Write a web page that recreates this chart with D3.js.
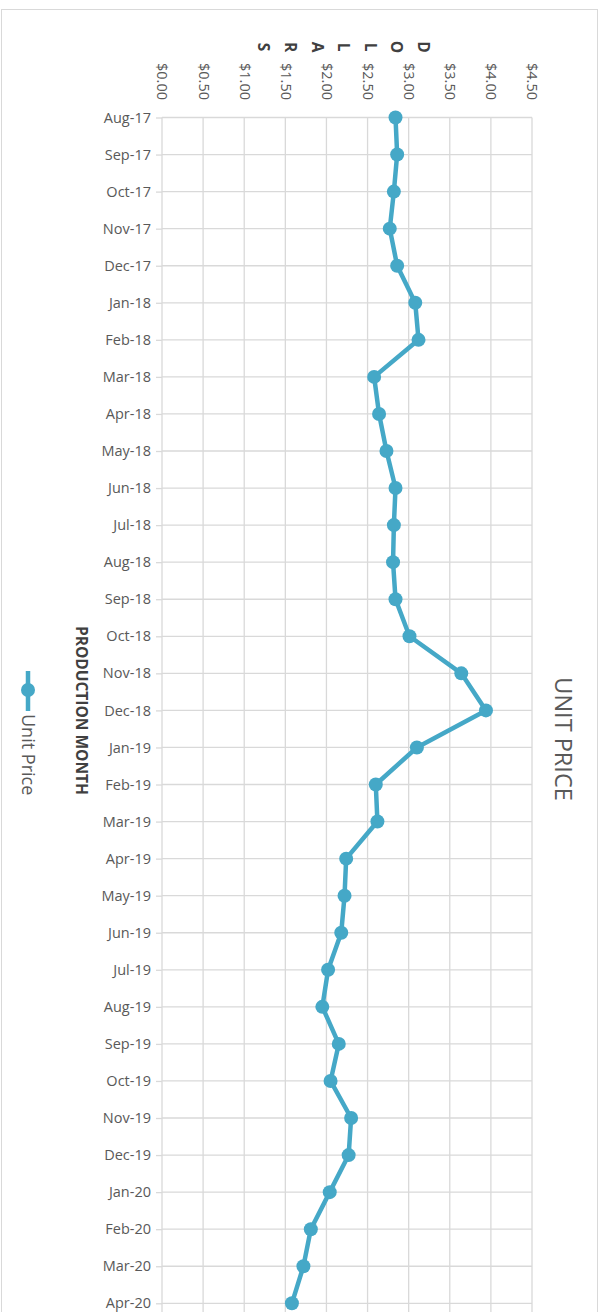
<!DOCTYPE html>
<html>
<head>
<meta charset="utf-8">
<script src="https://cdn.jsdelivr.net/npm/d3@7"></script>
<style>
  html, body { margin: 0; padding: 0; background: #fff; }
  svg { display: block; }
  text { font-family: "Open Sans", "Noto Sans", sans-serif; }
</style>
</head>
<body>
<div id="chart"></div>
<script>
// Monthly unit price, Aug 2017 – Apr 2020
const months = [
  "Aug-17", "Sep-17", "Oct-17", "Nov-17", "Dec-17",
  "Jan-18", "Feb-18", "Mar-18", "Apr-18", "May-18", "Jun-18",
  "Jul-18", "Aug-18", "Sep-18", "Oct-18", "Nov-18", "Dec-18",
  "Jan-19", "Feb-19", "Mar-19", "Apr-19", "May-19", "Jun-19",
  "Jul-19", "Aug-19", "Sep-19", "Oct-19", "Nov-19", "Dec-19",
  "Jan-20", "Feb-20", "Mar-20", "Apr-20"
];
const unitPrice = [
  2.84, 2.86, 2.82, 2.77, 2.86,
  3.08, 3.12, 2.58, 2.64, 2.73, 2.84,
  2.82, 2.81, 2.84, 3.01, 3.64, 3.94,
  3.10, 2.60, 2.62, 2.24, 2.22, 2.18,
  2.02, 1.95, 2.15, 2.05, 2.30, 2.27,
  2.04, 1.81, 1.72, 1.58
];
const priceTicks = [0, 0.5, 1, 1.5, 2, 2.5, 3, 3.5, 4, 4.5];
const seriesName = "Unit Price";
const chartTitle = "UNIT PRICE";
const valueAxisTitle = "DOLLARS";
const categoryAxisTitle = "PRODUCTION MONTH";

const W = 604, H = 1312;
const lineColor = "#45a8c7";
const gridColor = "#d9d9d9";
const labelColor = "#595959";

const svg = d3.select("#chart").append("svg")
  .attr("width", W).attr("height", H);

// outer chart frame
svg.append("rect")
  .attr("x", 1.5).attr("y", 9.5)
  .attr("width", 596).attr("height", H + 20)
  .attr("fill", "#fff").attr("stroke", gridColor).attr("stroke-width", 1);

// value runs left→right along the top, months run top→bottom
const x = d3.scaleLinear().domain([0, 4.5]).range([162, 532]);
const y = d3.scalePoint().domain(months).range([117.5, 1303.3]);

// gridlines
svg.append("g").selectAll("line.v").data(priceTicks).join("line")
  .attr("x1", d => x(d)).attr("x2", d => x(d))
  .attr("y1", y(months[0])).attr("y2", H + 10)
  .attr("stroke", gridColor).attr("stroke-width", 1.3);
svg.append("g").selectAll("line.h").data(months).join("line")
  .attr("x1", x(0)).attr("x2", x(4.5))
  .attr("y1", d => y(d)).attr("y2", d => y(d))
  .attr("stroke", gridColor).attr("stroke-width", 1.3);

// category axis (left)
const catAxis = svg.append("g")
  .attr("transform", `translate(${x(0)},0)`)
  .call(d3.axisLeft(y).tickSize(6).tickPadding(5));
catAxis.select(".domain").remove();
catAxis.selectAll(".tick line").attr("stroke", gridColor).attr("stroke-width", 1.3);
catAxis.selectAll(".tick text")
  .attr("fill", labelColor)
  .style("font-size", "14.5px")
  .style("font-family", "'Open Sans', sans-serif");

// value axis (top) with labels turned to read downward
const valAxis = svg.append("g")
  .attr("transform", "translate(0,63)")
  .call(d3.axisTop(x).tickValues(priceTicks).tickFormat(d3.format("$.2f")).tickSize(0));
valAxis.select(".domain").remove();
valAxis.selectAll(".tick text")
  .attr("x", 0).attr("y", 0).attr("dy", "0.35em")
  .attr("transform", "rotate(90)")
  .style("text-anchor", "start")
  .attr("fill", labelColor)
  .style("font-size", "14.5px")
  .style("font-family", "'Open Sans', sans-serif");

// value axis title: stacked letters, each turned a quarter
const letters = valueAxisTitle.split("");
svg.append("g").selectAll("text").data(letters).join("text")
  .attr("transform", (d, i) => `translate(${423.5 - i * 26.6},47) rotate(90)`)
  .attr("text-anchor", "middle").attr("dy", "0.35em")
  .attr("fill", "#404040")
  .style("font-size", "15.5px").style("font-weight", "bold")
  .text(d => d);

// category axis title
svg.append("text")
  .attr("transform", `translate(81,${(y(months[0]) + y(months[months.length - 1])) / 2}) rotate(90)`)
  .attr("text-anchor", "middle").attr("dy", "0.35em")
  .attr("fill", "#404040")
  .style("font-size", "15.5px").style("font-weight", "bold")
  .text(categoryAxisTitle);

// chart title (right side)
svg.append("text")
  .attr("transform", "translate(563,739) rotate(90)")
  .attr("text-anchor", "middle").attr("dy", "0.35em")
  .attr("fill", labelColor)
  .style("font-size", "23.5px")
  .text(chartTitle);

// series line and markers
const line = d3.line()
  .x((d, i) => x(d))
  .y((d, i) => y(months[i]));
svg.append("path")
  .datum(unitPrice)
  .attr("d", line)
  .attr("fill", "none")
  .attr("stroke", lineColor)
  .attr("stroke-width", 4.5)
  .attr("stroke-linejoin", "round")
  .attr("stroke-linecap", "round");
svg.append("g").selectAll("circle").data(unitPrice).join("circle")
  .attr("cx", d => x(d))
  .attr("cy", (d, i) => y(months[i]))
  .attr("r", 7)
  .attr("fill", lineColor);

// legend (left side)
const legend = svg.append("g").attr("transform", "translate(28,0)");
legend.append("line")
  .attr("x1", 0).attr("x2", 0).attr("y1", 671).attr("y2", 711)
  .attr("stroke", lineColor).attr("stroke-width", 4.5);
legend.append("circle").attr("cx", 0).attr("cy", 690).attr("r", 7).attr("fill", lineColor);
legend.append("text")
  .attr("transform", "translate(0,714) rotate(90)")
  .attr("text-anchor", "start").attr("dy", "0.35em")
  .attr("fill", labelColor)
  .style("font-size", "18px")
  .text(seriesName);
</script>
</body>
</html>
